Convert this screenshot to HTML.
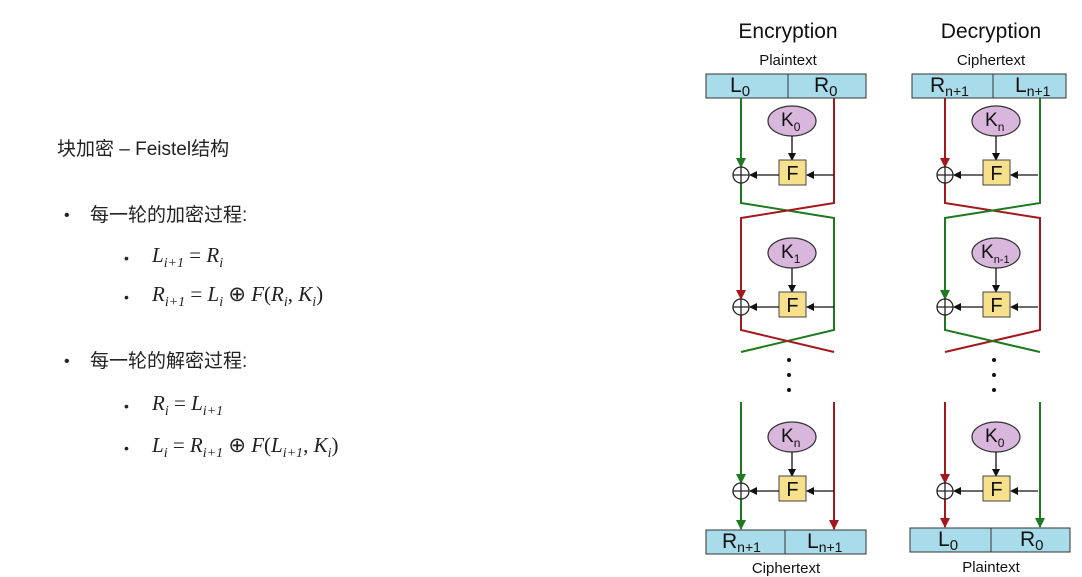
<!DOCTYPE html>
<html><head><meta charset="utf-8"><style>
html,body{margin:0;padding:0;background:#fff;width:1082px;height:577px;overflow:hidden}
svg{position:absolute;left:0;top:0}
.cn{font-family:"Liberation Sans","Noto Sans CJK SC",sans-serif;fill:#222}
.m{font-family:"Liberation Serif",serif;font-style:italic;fill:#222;font-size:21px}
.mu{font-family:"Liberation Serif",serif;font-style:normal;fill:#222;font-size:21px}
.s{font-size:14px}
.lab{font-family:"Liberation Sans",sans-serif;fill:#111}
</style></head><body>
<svg width="1082" height="577" viewBox="0 0 1082 577">
<defs>
<marker id="ak" markerWidth="8" markerHeight="8" refX="7" refY="4" orient="auto" markerUnits="userSpaceOnUse"><path d="M0,0L8,4L0,8z" fill="#111"/></marker>
<marker id="ag" markerWidth="10" markerHeight="10" refX="9" refY="5" orient="auto" markerUnits="userSpaceOnUse"><path d="M0,0L10,5L0,10z" fill="#1e7a1e"/></marker>
<marker id="ar" markerWidth="10" markerHeight="10" refX="9" refY="5" orient="auto" markerUnits="userSpaceOnUse"><path d="M0,0L10,5L0,10z" fill="#a3181c"/></marker>
</defs>
<text x="57" y="155" class="cn" font-size="19">块加密 – Feistel结构</text>
<text x="64" y="220" class="cn" font-size="16">•</text>
<text x="90" y="221" class="cn" font-size="19" fill="#333">每一轮的加密过程:</text>
<text x="124" y="263" class="cn" font-size="14">•</text>
<text x="152" y="262" class="m">L<tspan class="s" dy="5">i+1</tspan><tspan dy="-5" class="mu"> = </tspan>R<tspan class="s" dy="5">i</tspan></text>
<text x="124" y="302" class="cn" font-size="14">•</text>
<text x="152" y="301" class="m">R<tspan class="s" dy="5">i+1</tspan><tspan dy="-5" class="mu"> = </tspan>L<tspan class="s" dy="5">i</tspan><tspan dy="-5" class="mu"> ⊕ </tspan>F<tspan class="mu">(</tspan>R<tspan class="s" dy="5">i</tspan><tspan dy="-5" class="mu">, </tspan>K<tspan class="s" dy="5">i</tspan><tspan dy="-5" class="mu">)</tspan></text>
<text x="64" y="366" class="cn" font-size="16">•</text>
<text x="90" y="367" class="cn" font-size="19" fill="#333">每一轮的解密过程:</text>
<text x="124" y="411" class="cn" font-size="14">•</text>
<text x="152" y="410" class="m">R<tspan class="s" dy="5">i</tspan><tspan dy="-5" class="mu"> = </tspan>L<tspan class="s" dy="5">i+1</tspan></text>
<text x="124" y="453" class="cn" font-size="14">•</text>
<text x="152" y="452" class="m">L<tspan class="s" dy="5">i</tspan><tspan dy="-5" class="mu"> = </tspan>R<tspan class="s" dy="5">i+1</tspan><tspan dy="-5" class="mu"> ⊕ </tspan>F<tspan class="mu">(</tspan>L<tspan class="s" dy="5">i+1</tspan><tspan dy="-5" class="mu">, </tspan>K<tspan class="s" dy="5">i</tspan><tspan dy="-5" class="mu">)</tspan></text>

<text x="788" y="38" class="lab" font-size="21" text-anchor="middle">Encryption</text>
<text x="788" y="65" class="lab" font-size="15" text-anchor="middle">Plaintext</text>
<text x="786" y="573" class="lab" font-size="15" text-anchor="middle">Ciphertext</text>
<text x="991" y="38" class="lab" font-size="21" text-anchor="middle">Decryption</text>
<text x="991" y="65" class="lab" font-size="15" text-anchor="middle">Ciphertext</text>
<text x="991" y="572" class="lab" font-size="15" text-anchor="middle">Plaintext</text>

<g stroke="#333" stroke-width="1" fill="#a9dcea">
<rect x="706" y="74" width="160" height="24"/><line x1="788" y1="74" x2="788" y2="98"/>
<rect x="706" y="530" width="160" height="24"/><line x1="785" y1="530" x2="785" y2="554"/>
<rect x="912" y="74" width="154" height="24"/><line x1="993" y1="74" x2="993" y2="98"/>
<rect x="910" y="528" width="160" height="24"/><line x1="991" y1="528" x2="991" y2="552"/>
</g>
<g class="lab" font-size="21">
<text x="730" y="92">L<tspan font-size="15" dy="4">0</tspan></text>
<text x="814" y="92">R<tspan font-size="15" dy="4">0</tspan></text>
<text x="722" y="548">R<tspan font-size="14" dy="4">n+1</tspan></text>
<text x="807" y="548">L<tspan font-size="14" dy="4">n+1</tspan></text>
<text x="930" y="92">R<tspan font-size="14" dy="4">n+1</tspan></text>
<text x="1015" y="92">L<tspan font-size="14" dy="4">n+1</tspan></text>
<text x="938" y="546">L<tspan font-size="15" dy="4">0</tspan></text>
<text x="1020" y="546">R<tspan font-size="15" dy="4">0</tspan></text>
</g>

<g fill="none" stroke-width="2">
<path d="M741,98V167" stroke="#1e7a1e" marker-end="url(#ag)"/>
<path d="M741,183V203L834,218V330L741,352" stroke="#1e7a1e"/>
<path d="M834,98V203L741,218V299" stroke="#a3181c" marker-end="url(#ar)"/>
<path d="M741,315V330L834,352" stroke="#a3181c"/>
<path d="M741,402V483" stroke="#1e7a1e" marker-end="url(#ag)"/>
<path d="M741,499V529" stroke="#1e7a1e" marker-end="url(#ag)"/>
<path d="M834,402V529" stroke="#a3181c" marker-end="url(#ar)"/>
<path d="M945,98V167" stroke="#a3181c" marker-end="url(#ar)"/>
<path d="M945,183V203L1040,218V330L945,352" stroke="#a3181c"/>
<path d="M1040,98V203L945,218V299" stroke="#1e7a1e" marker-end="url(#ag)"/>
<path d="M945,315V330L1040,352" stroke="#1e7a1e"/>
<path d="M945,402V483" stroke="#a3181c" marker-end="url(#ar)"/>
<path d="M945,499V527" stroke="#a3181c" marker-end="url(#ar)"/>
<path d="M1040,402V527" stroke="#1e7a1e" marker-end="url(#ag)"/>
</g>

<g fill="#111">
<circle cx="789" cy="360" r="2"/><circle cx="789" cy="375" r="2"/><circle cx="789" cy="390" r="2"/>
<circle cx="994" cy="360" r="2"/><circle cx="994" cy="375" r="2"/><circle cx="994" cy="390" r="2"/>
</g>

<g id="r1">
<ellipse cx="792" cy="121" rx="24" ry="15" fill="#d9b6dc" stroke="#333" stroke-width="1.2"/>
<line x1="792" y1="136" x2="792" y2="160" stroke="#111" stroke-width="1.3" marker-end="url(#ak)"/>
<rect x="779" y="160" width="27" height="25" fill="#f6e08c" stroke="#444"/>
<text x="792.5" y="180" class="lab" font-size="20" text-anchor="middle">F</text>
<line x1="834" y1="175" x2="807" y2="175" stroke="#111" stroke-width="1.3" marker-end="url(#ak)"/>
<line x1="779" y1="175" x2="750" y2="175" stroke="#111" stroke-width="1.3" marker-end="url(#ak)"/>
<circle cx="741" cy="175" r="8" fill="none" stroke="#222" stroke-width="1.3"/>
<path d="M733,175H749M741,167V183" stroke="#222" stroke-width="1.3"/>
</g>
<use href="#r1" transform="translate(0,132)"/>
<use href="#r1" transform="translate(0,316)"/>
<use href="#r1" transform="translate(204,0)"/>
<use href="#r1" transform="translate(204,132)"/>
<use href="#r1" transform="translate(204,316)"/>
<g class="lab" font-size="19">
<text x="781" y="126">K<tspan font-size="12" dy="5">0</tspan></text>
<text x="781" y="258">K<tspan font-size="12" dy="5">1</tspan></text>
<text x="781" y="442">K<tspan font-size="12" dy="5">n</tspan></text>
<text x="985" y="126">K<tspan font-size="12" dy="5">n</tspan></text>
<text x="981" y="258">K<tspan font-size="11" dy="5">n-1</tspan></text>
<text x="985" y="442">K<tspan font-size="12" dy="5">0</tspan></text>
</g>
</svg>
</body></html>
